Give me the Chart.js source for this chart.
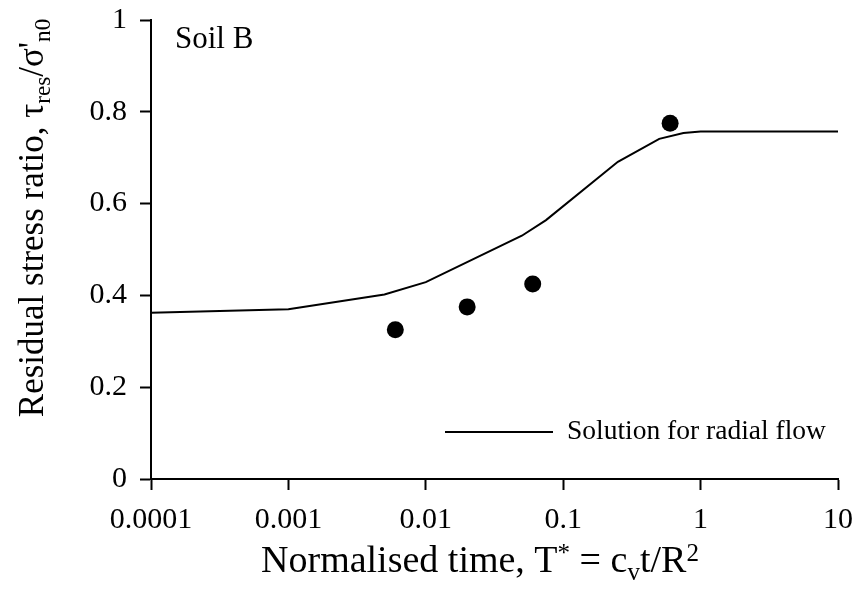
<!DOCTYPE html>
<html>
<head>
<meta charset="utf-8">
<script src="https://cdn.jsdelivr.net/npm/chart.js@4.4.1/dist/chart.umd.min.js"></script>
<style>
  html,body{margin:0;padding:0;background:#fff;}
  #wrap{width:858px;height:589px;}
</style>
</head>
<body>
<div id="wrap"><canvas id="c" width="858" height="589"></canvas></div>
<script>
/* Soil B – residual stress ratio vs normalised time */

const xTicks  = [0.0001, 0.001, 0.01, 0.1, 1, 10];
const xLabels = ['0.0001', '0.001', '0.01', '0.1', '1', '10'];
const yTicks  = [0, 0.2, 0.4, 0.6, 0.8, 1];
const yLabels = ['0', '0.2', '0.4', '0.6', '0.8', '1'];

// solution for radial flow
const solT     = [0.0001, 0.001, 0.005, 0.01, 0.05, 0.075, 0.25, 0.5, 0.75, 1, 10];
const solRatio = [0.362, 0.370, 0.402, 0.429, 0.530, 0.564, 0.691, 0.741, 0.754, 0.757, 0.757];

// measured points
const testT     = [0.006, 0.02, 0.06, 0.6];
const testRatio = [0.325, 0.375, 0.425, 0.775];

const FONT = "'Liberation Serif','Times New Roman',serif";
const pts = (xs, ys) => xs.map((x, i) => ({x, y: ys[i]}));

// draws text with sub / superscript parts, returns width
function rich(ctx, parts, size, draw){
  let w = 0;
  for (const [t, m] of parts){
    const s = m ? size*0.66 : size;
    ctx.font = s + 'px ' + FONT;
    const dy = m === 'sub' ? size*0.2 : m === 'sup' ? -size*0.3 : 0;
    if (draw) ctx.fillText(t, w, dy);
    w += ctx.measureText(t).width;
  }
  return w;
}

const deco = {
  id: 'deco',
  afterDraw(chart){
    const ctx = chart.ctx;
    ctx.save();
    ctx.fillStyle = '#000';
    ctx.textBaseline = 'alphabetic';
    ctx.textAlign = 'left';

    // x title
    const xt = [['Normalised time, T',''],['*','sup'],[' = c',''],['v','sub'],['t/R',''],['2','sup']];
    let w = rich(ctx, xt, 38, false);
    ctx.save();
    ctx.translate(480 - w/2, 572);
    rich(ctx, xt, 38, true);
    ctx.restore();

    // y title
    const yt = [['Residual stress ratio, \u03c4',''],['res','sub'],['/\u03c3\'',''],['n0','sub']];
    w = rich(ctx, yt, 35, false);
    ctx.save();
    ctx.translate(43, 218 + w/2);
    ctx.rotate(-Math.PI/2);
    rich(ctx, yt, 35, true);
    ctx.restore();

    // label
    ctx.font = '31px ' + FONT;
    ctx.fillText('Soil B', 175, 48);

    // legend
    ctx.strokeStyle = '#000';
    ctx.lineWidth = 2;
    ctx.beginPath();
    ctx.moveTo(445, 432);
    ctx.lineTo(553, 432);
    ctx.stroke();
    ctx.font = '27.5px ' + FONT;
    ctx.textBaseline = 'middle';
    ctx.fillText('Solution for radial flow', 567, 432);
    ctx.restore();
  }
};

const axisStyle = {
  grid: {display: true, drawOnChartArea: false, drawTicks: true, tickLength: 11, tickWidth: 2, tickColor: '#000'},
  border: {display: true, color: '#000', width: 2}
};

new Chart(document.getElementById('c'), {
  type: 'scatter',
  data: {
    datasets: [
      {data: pts(solT, solRatio), showLine: true, borderColor: '#000', borderWidth: 2,
       pointRadius: 0, tension: 0, clip: false},
      {data: pts(testT, testRatio), showLine: false, pointRadius: 8.5,
       backgroundColor: '#000', borderColor: '#000', borderWidth: 0, clip: false}
    ]
  },
  options: {
    responsive: false,
    animation: false,
    layout: {padding: {left: 0, right: 20, top: 20, bottom: 0}},
    plugins: {legend: {display: false}, tooltip: {enabled: false}},
    scales: {
      x: {
        type: 'logarithmic', min: 0.0001, max: 10, ...axisStyle,
        afterBuildTicks: s => { s.ticks = xTicks.map(v => ({value: v})); },
        afterFit: s => { s.height = 110; s.paddingLeft = 0; s.paddingRight = 0; },
        ticks: {color: '#000', font: {family: FONT, size: 30}, padding: 12,
                maxRotation: 0, autoSkip: false, callback: (v, i) => xLabels[i]}
      },
      y: {
        type: 'linear', min: 0, max: 1, ...axisStyle,
        afterBuildTicks: s => { s.ticks = yTicks.map(v => ({value: v})); },
        afterFit: s => { s.width = 151; s.paddingTop = 0; s.paddingBottom = 0; },
        ticks: {color: '#000', font: {family: FONT, size: 30}, padding: 13,
                callback: (v, i) => yLabels[i]}
      }
    }
  },
  plugins: [deco]
});
</script>
</body>
</html>
